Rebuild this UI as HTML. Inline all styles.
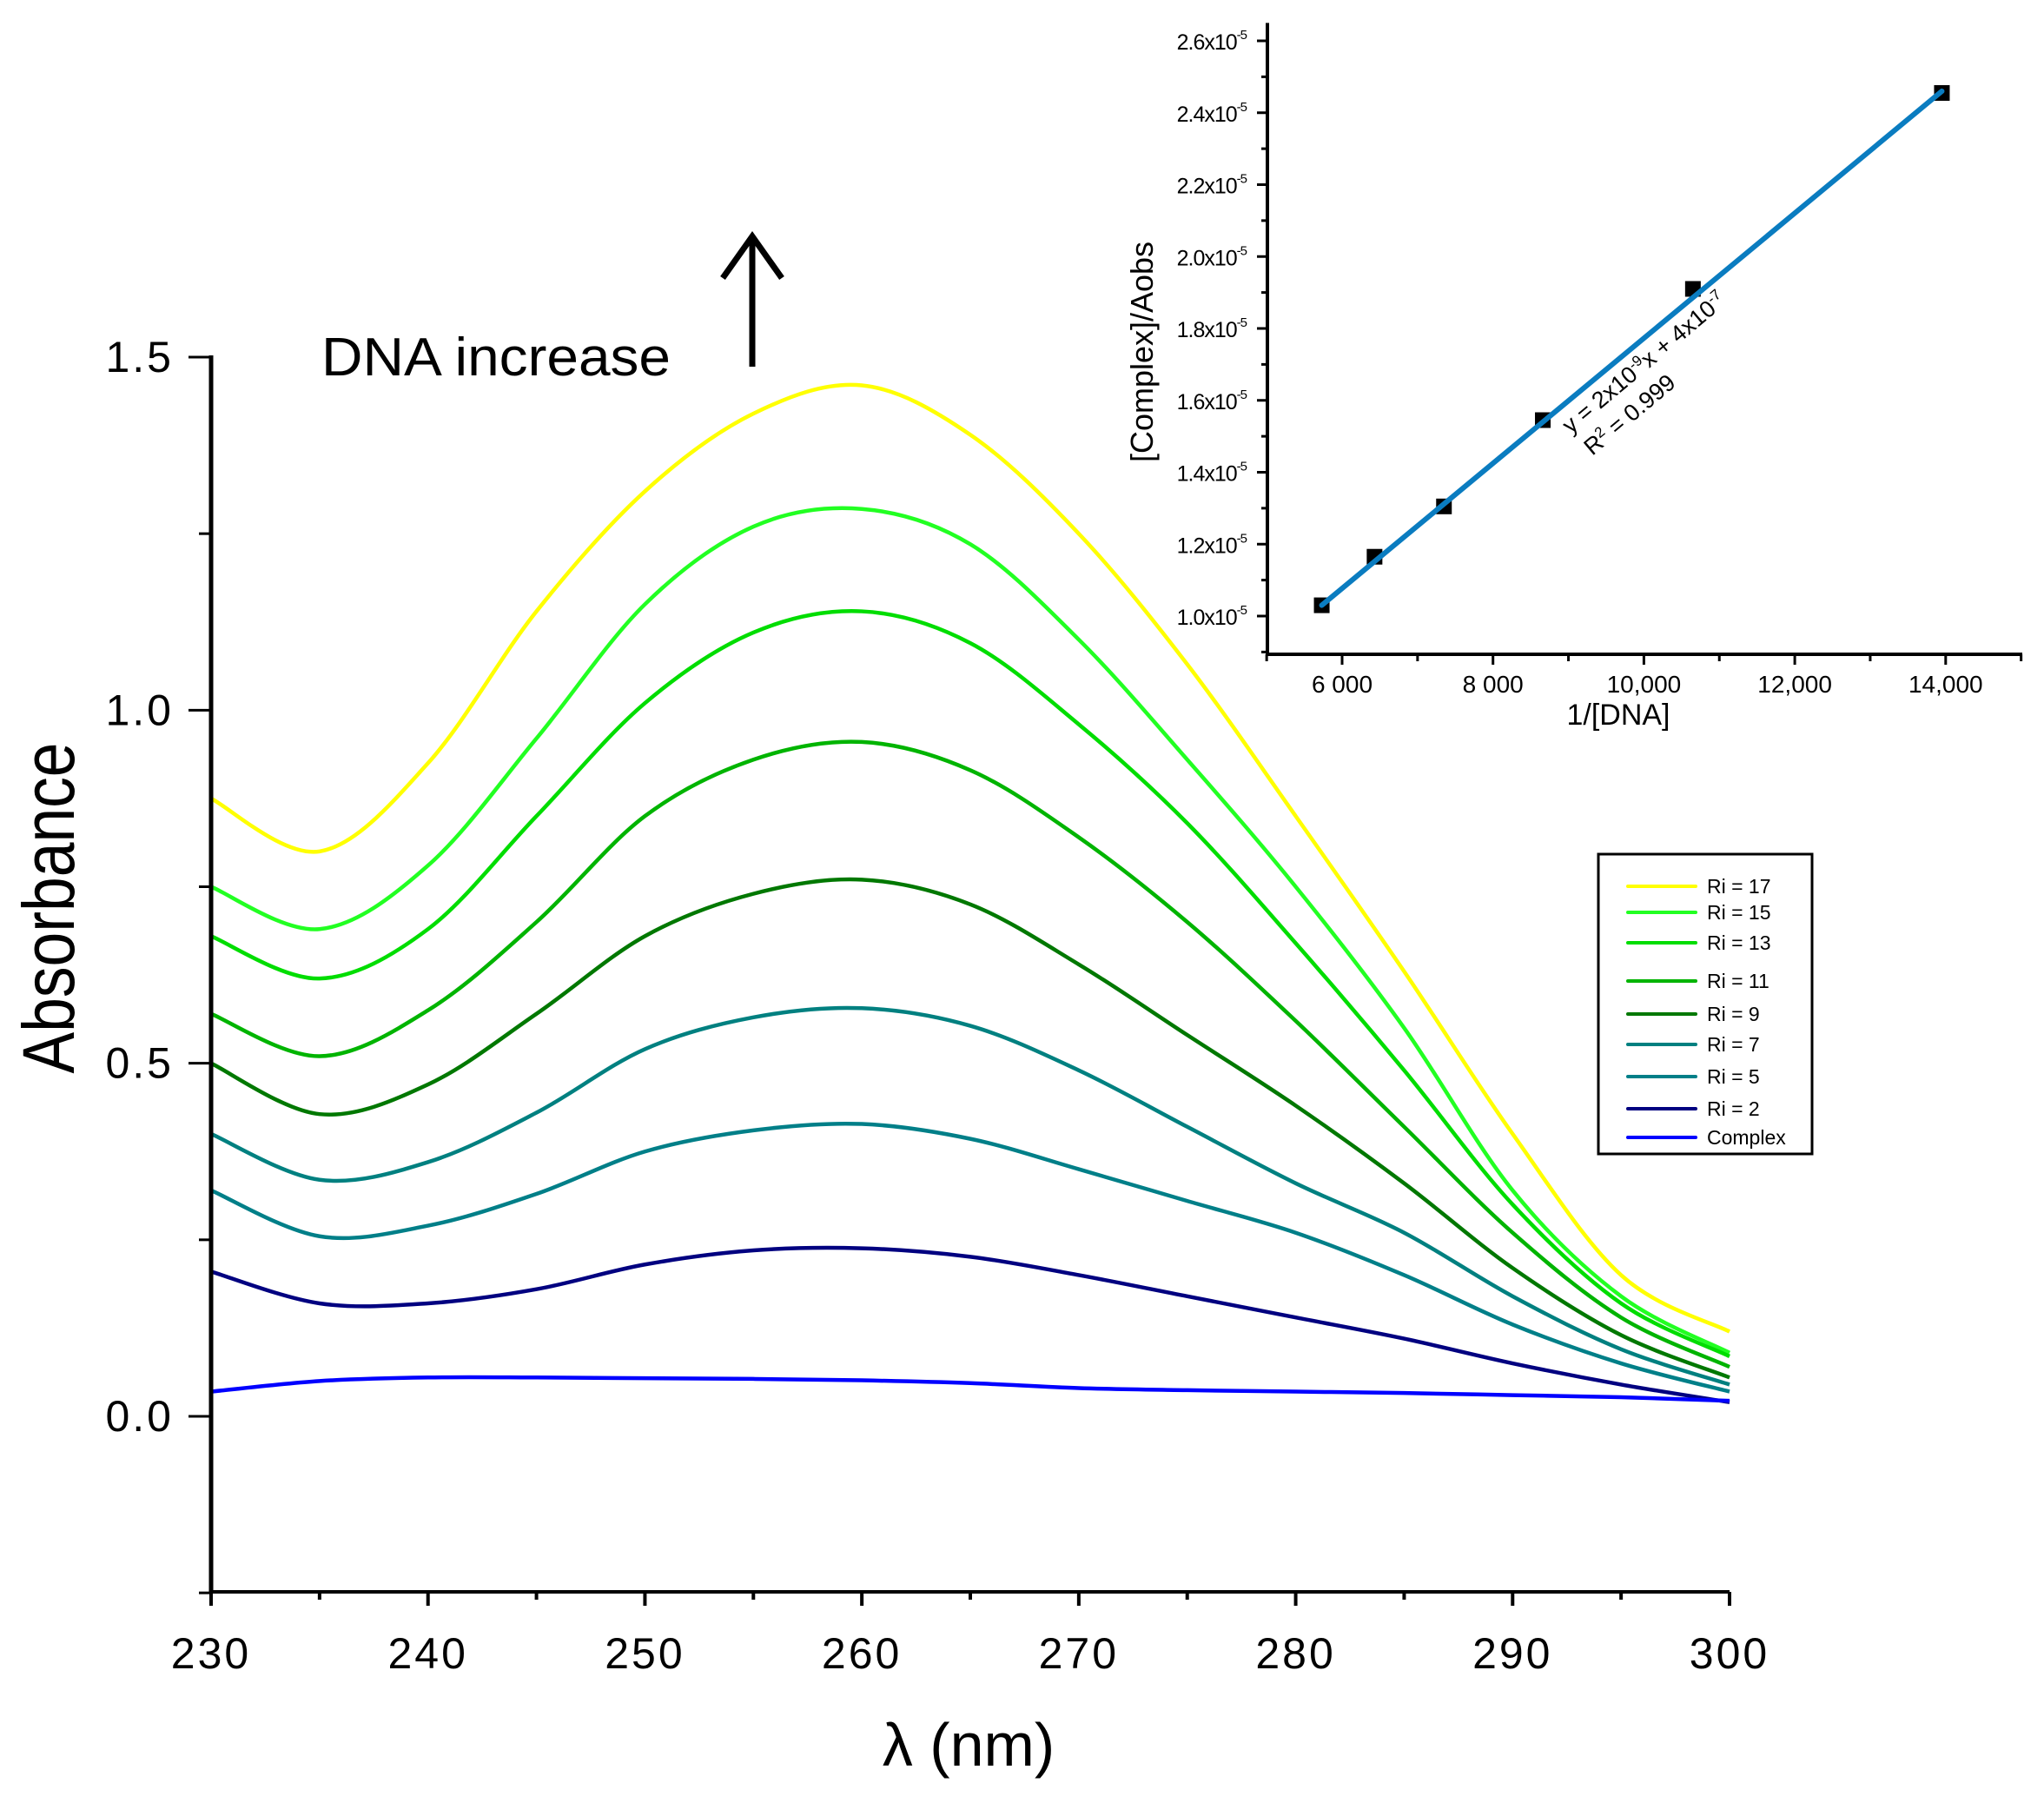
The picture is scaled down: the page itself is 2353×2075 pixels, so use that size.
<!DOCTYPE html>
<html><head><meta charset="utf-8"><style>
html,body{margin:0;padding:0;background:#fff;}
svg{display:block;font-family:"Liberation Sans",Arial,sans-serif;}
</style></head><body>
<svg id="chart" width="2353" height="2075" viewBox="0 0 2353 2075" xmlns="http://www.w3.org/2000/svg">
<g id="main"></g>
<g id="inset"></g>
<g id="legend"></g>
</svg>
<script>
const wavelengths=[230,235,240,245,250,255,260,265,270,275,280,285,290,295,300];
const seriesNames=["Ri = 17","Ri = 15","Ri = 13","Ri = 11","Ri = 9","Ri = 7","Ri = 5","Ri = 2","Complex"];
const seriesColors=["#ffff00","#22ff22","#00dd00","#00b400","#007800","#008080","#007f88","#000080","#0000ff"];
const ri17=[0.875,0.80,0.925,1.14,1.31,1.42,1.46,1.39,1.25,1.065,0.85,0.63,0.40,0.20,0.12];
const ri15=[0.75,0.69,0.78,0.96,1.15,1.26,1.285,1.235,1.10,0.93,0.75,0.55,0.32,0.17,0.09];
const ri13=[0.68,0.62,0.69,0.85,1.01,1.11,1.14,1.095,0.98,0.84,0.67,0.49,0.30,0.16,0.085];
const ri11=[0.57,0.51,0.575,0.70,0.85,0.93,0.955,0.915,0.82,0.70,0.56,0.41,0.26,0.14,0.07];
const ri9=[0.50,0.428,0.47,0.57,0.68,0.74,0.76,0.725,0.64,0.54,0.44,0.33,0.21,0.115,0.055];
const ri7=[0.40,0.335,0.36,0.43,0.52,0.565,0.578,0.553,0.49,0.41,0.33,0.26,0.17,0.095,0.045];
const ri5=[0.32,0.255,0.27,0.315,0.375,0.405,0.414,0.393,0.35,0.305,0.26,0.20,0.13,0.075,0.035];
const ri2=[0.205,0.16,0.16,0.18,0.215,0.235,0.238,0.226,0.20,0.17,0.14,0.11,0.075,0.045,0.02];
const complexAbs=[0.035,0.05,0.055,0.055,0.054,0.053,0.051,0.047,0.04,0.037,0.035,0.033,0.03,0.027,0.022];
const allSeries=[ri17,ri15,ri13,ri11,ri9,ri7,ri5,ri2,complexAbs];
const xTickLabels=[230,240,250,260,270,280,290,300];
const yTickLabels=["0.0","0.5","1.0","1.5"];
const yTickValues=[0,0.5,1.0,1.5];
// inset data
const invDNA=[5730,6430,7350,8660,10650,13950];
const ratio=[1.03,1.165,1.305,1.545,1.91,2.455];
const fitX=[5730,13950];
const fitY=[1.03,2.46];
const insetXTicks=[6000,8000,10000,12000,14000];
const insetXLabels=["6 000","8 000","10,000","12,000","14,000"];
const insetYTicks=[1.0,1.2,1.4,1.6,1.8,2.0,2.2,2.4,2.6];
const insetYLabels=["1.0","1.2","1.4","1.6","1.8","2.0","2.2","2.4","2.6"];

const NS="http://www.w3.org/2000/svg";
function mk(parent,tag,attrs,text){const e=document.createElementNS(NS,tag);for(const k in attrs)e.setAttribute(k,attrs[k]);if(text!==undefined)e.textContent=text;parent.appendChild(e);return e;}

// main axes
const X0=243,X1=1991,Y0=1832,Y1=411;
const xS=v=>X0+(v-230)/(300-230)*(X1-X0);
const yS=v=>1630-v*(1630-411)/1.5;
const main=document.getElementById('main');
function smooth(pts){let d=`M${pts[0][0]},${pts[0][1]}`;for(let i=0;i<pts.length-1;i++){const p0=pts[Math.max(0,i-1)],p1=pts[i],p2=pts[i+1],p3=pts[Math.min(pts.length-1,i+2)];const c1=[p1[0]+(p2[0]-p0[0])/6,p1[1]+(p2[1]-p0[1])/6],c2=[p2[0]-(p3[0]-p1[0])/6,p2[1]-(p3[1]-p1[1])/6];d+=` C${c1[0]},${c1[1]} ${c2[0]},${c2[1]} ${p2[0]},${p2[1]}`;}return d;}
allSeries.forEach((s,i)=>{
  const pts=wavelengths.map((w,j)=>[xS(w),yS(s[j])]);
  const p=mk(main,'path',{d:smooth(pts),fill:'none',stroke:seriesColors[i],'stroke-width':4.5});
  
  
});
const ya=mk(main,'line',{x1:X0,y1:Y1-2,x2:X0,y2:Y0+2,stroke:'#000','stroke-width':5});


const xa=mk(main,'line',{x1:X0-2,y1:Y0,x2:X1,y2:Y0,stroke:'#000','stroke-width':4});


for(let v=230;v<=300;v+=5){const maj=v%10===0;mk(main,'line',{x1:xS(v),y1:Y0,x2:xS(v),y2:Y0+(maj?16:9),stroke:'#000','stroke-width':4});}
xTickLabels.forEach(v=>{const t=mk(main,'text',{x:xS(v),y:1920,'font-size':50,'text-anchor':'middle','letter-spacing':3},String(v));

});
for(let v=-0.25;v<=1.51;v+=0.25){const maj=Math.abs(v*2-Math.round(v*2))<1e-6;mk(main,'line',{x1:X0,y1:yS(v),x2:X0-(maj?26:14),y2:yS(v),stroke:'#000','stroke-width':3});}
yTickValues.forEach((v,i)=>{const t=mk(main,'text',{x:200,y:yS(v)+17,'font-size':50,'text-anchor':'end','letter-spacing':3},yTickLabels[i]);

});
const yt=mk(main,'text',{x:0,y:0,'font-size':84,'text-anchor':'middle',transform:'translate(85,1045) rotate(-90) scale(0.85,1)'},'Absorbance');


const xt=mk(main,'text',{x:1115,y:2032,'font-size':70,'text-anchor':'middle'},'λ (nm)');


const an=mk(main,'text',{x:370,y:432,'font-size':62,textLength:402,lengthAdjust:'spacingAndGlyphs'},'DNA increase');


const ar=mk(main,'path',{d:'M866,422 L866,272 M832,320 L866,272 L900,320',fill:'none',stroke:'#000','stroke-width':7});



// inset
const ins=document.getElementById('inset');
const IX0=1459,IX1=2328,IY0=753;
const ixS=v=>1545+(v-6000)/2000*173.7;
const iyS=v=>709-(v-1.0)/0.2*82.75;
mk(ins,'line',{x1:IX0,y1:iyS(2.65),x2:IX0,y2:IY0+2,stroke:'#000','stroke-width':4});
mk(ins,'line',{x1:IX0-2,y1:IY0,x2:IX1,y2:IY0,stroke:'#000','stroke-width':4});
for(let v=5000;v<=15000;v+=1000){const maj=v%2000===0;mk(ins,'line',{x1:ixS(v),y1:IY0,x2:ixS(v),y2:IY0+(maj?12:8),stroke:'#000','stroke-width':3});}
insetXTicks.forEach((v,i)=>{const t=mk(ins,'text',{x:ixS(v),y:797,'font-size':28,'text-anchor':'middle'},insetXLabels[i]);

});
for(let v=0.9;v<=2.61;v+=0.1){mk(ins,'line',{x1:IX0,y1:iyS(v),x2:IX0-(Math.round(v*10)%2===0?12:7),y2:iyS(v),stroke:'#000','stroke-width':3});}
insetYTicks.forEach((v,i)=>{const t=mk(ins,'text',{x:1435,y:iyS(v)+10,'font-size':25,'text-anchor':'end','letter-spacing':-1});


mk(t,'tspan',{},insetYLabels[i]+'x10');mk(t,'tspan',{dy:-12,'font-size':15},'-5');});
const it=mk(ins,'text',{x:0,y:0,'font-size':36,'text-anchor':'middle',transform:'translate(1327,405) rotate(-90)'},'[Complex]/Aobs');


const ixt=mk(ins,'text',{x:1863,y:834,'font-size':34,'text-anchor':'middle'},'1/[DNA]');


invDNA.forEach((v,i)=>{const r=mk(ins,'rect',{x:ixS(v)-9,y:iyS(ratio[i])-9,width:18,height:18,fill:'#000'});

});
const fl=mk(ins,'line',{x1:ixS(fitX[0]),y1:iyS(fitY[0]),x2:ixS(fitX[1]),y2:iyS(fitY[1]),stroke:'#0a7cc0','stroke-width':6,'stroke-linecap':'round'});


const eq=mk(ins,'text',{x:0,y:0,'font-size':27,transform:'translate(1808,500) rotate(-40)'});


mk(eq,'tspan',{},'y = 2x10');mk(eq,'tspan',{dy:-10,'font-size':17},'-9');mk(eq,'tspan',{dy:10},'x + 4x10');mk(eq,'tspan',{dy:-10,'font-size':17},'-7');
const r2=mk(ins,'text',{x:0,y:0,'font-size':27,transform:'translate(1833,525) rotate(-40)'});


mk(r2,'tspan',{},'R');mk(r2,'tspan',{dy:-10,'font-size':17},'2');mk(r2,'tspan',{dy:10},' = 0.999');

// legend
const lg=document.getElementById('legend');
mk(lg,'rect',{x:1840,y:983,width:246,height:345,fill:'#fff',stroke:'#000','stroke-width':3});
const legendY=[1020,1050,1085,1129,1167,1202,1239,1276,1309];
seriesNames.forEach((n,i)=>{
  const g=mk(lg,'g',{});
  
  
  mk(g,'line',{x1:1874,y1:legendY[i],x2:1952,y2:legendY[i],stroke:seriesColors[i],'stroke-width':4,'stroke-linecap':'round'});
  mk(g,'text',{x:1965,y:legendY[i]+8,'font-size':23},n);
});
</script>
</body></html>
